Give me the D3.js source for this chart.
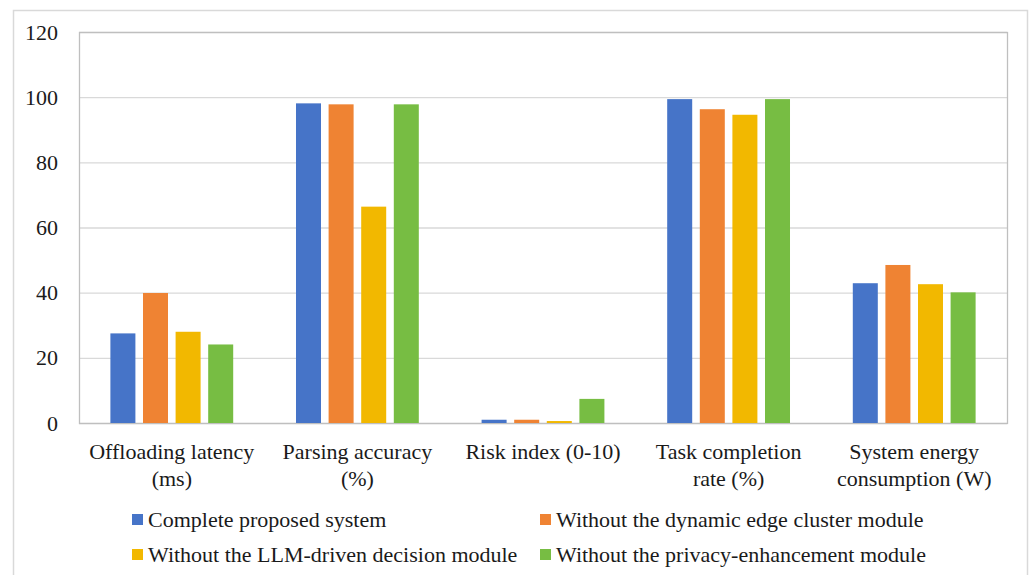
<!DOCTYPE html>
<html>
<head>
<meta charset="utf-8">
<script src="https://cdn.jsdelivr.net/npm/d3@7/dist/d3.min.js"></script>
<style>
  html, body { margin: 0; padding: 0; background: #fff; }
  svg { display: block; }
</style>
</head>
<body>
<svg id="chart" width="1031" height="575"></svg>
<script>
// Metrics on the x axis (each label may wrap onto two lines)
const categories = [
  ["Offloading latency", "(ms)"],
  ["Parsing accuracy", "(%)"],
  ["Risk index (0-10)"],
  ["Task completion", "rate (%)"],
  ["System energy", "consumption (W)"]
];

// System variants
const seriesNames = [
  "Complete proposed system",
  "Without the dynamic edge cluster module",
  "Without the LLM-driven decision module",
  "Without the privacy-enhancement module"
];

// Values per variant, in category order
const completeSystem   = [27.5, 98.1, 1.0, 99.4, 42.9];
const noEdgeCluster    = [39.9, 97.8, 1.0, 96.3, 48.5];
const noLLMDecision    = [28.0, 66.4, 0.6, 94.6, 42.6];
const noPrivacyModule  = [24.1, 97.8, 7.4, 99.4, 40.1];
const seriesValues = [completeSystem, noEdgeCluster, noLLMDecision, noPrivacyModule];

const yTicks = [0, 20, 40, 60, 80, 100, 120];
const colors = ["#4674c8", "#ef8333", "#f2b800", "#77bd43"];
const fontFamily = '"Liberation Serif"';
const fontSize = "22px";
const textColor = "#1a1a1a";

const svg = d3.select("#chart");

// Outer chart border
svg.append("rect")
  .attr("x", 13.5).attr("y", 10.5)
  .attr("width", 1014).attr("height", 600)
  .attr("fill", "none").attr("stroke", "#d9d9d9").attr("stroke-width", 1.5);

const plot = { left: 79, top: 32, right: 1007, bottom: 423 };

const catKeys = categories.map((c, i) => i);
const x0 = d3.scaleBand().domain(catKeys).range([plot.left, plot.right]).padding(0);
const x1 = d3.scaleBand().domain(d3.range(seriesNames.length))
  .range([0, x0.bandwidth()]).paddingInner(0.233).paddingOuter(0.963);
const y = d3.scaleLinear().domain([0, 120]).range([plot.bottom, plot.top]);

// Horizontal gridlines
svg.append("g").selectAll("line").data(yTicks).join("line")
  .attr("x1", plot.left).attr("x2", plot.right)
  .attr("y1", d => y(d) + 0.5).attr("y2", d => y(d) + 0.5)
  .attr("stroke", "#d9d9d9").attr("stroke-width", 1.3);

// Plot-area frame
svg.append("rect")
  .attr("x", plot.left + 0.5).attr("y", plot.top + 0.5)
  .attr("width", plot.right - plot.left).attr("height", plot.bottom - plot.top)
  .attr("fill", "none").attr("stroke", "#bfbfbf").attr("stroke-width", 1.3);

// Bars
const groups = svg.append("g").selectAll("g").data(catKeys).join("g")
  .attr("transform", d => `translate(${x0(d)},0)`);
groups.selectAll("rect")
  .data(ci => seriesValues.map((vals, si) => ({ si, v: vals[ci] })))
  .join("rect")
  .attr("x", d => x1(d.si))
  .attr("width", x1.bandwidth())
  .attr("y", d => y(d.v))
  .attr("height", d => y(0) - y(d.v))
  .attr("fill", d => colors[d.si]);

// Y axis labels (no domain line or tick marks)
const yAxis = svg.append("g")
  .attr("transform", `translate(${plot.left},0)`)
  .call(d3.axisLeft(y).tickValues(yTicks).tickSize(0).tickPadding(21));
yAxis.attr("font-family", null).attr("font-size", null);
yAxis.select(".domain").remove();
yAxis.selectAll("text")
  .style("font-family", fontFamily)
  .style("font-size", fontSize)
  .attr("fill", textColor);

// X axis category labels
const xAxis = svg.append("g")
  .attr("transform", `translate(0,${plot.bottom})`)
  .call(d3.axisBottom(x0).tickSize(0).tickFormat(() => ""));
xAxis.attr("font-family", null).attr("font-size", null);
xAxis.select(".domain").remove();
xAxis.selectAll(".tick").each(function (ci) {
  const t = d3.select(this).append("text")
    .attr("text-anchor", "middle")
    .style("font-family", fontFamily)
    .style("font-size", fontSize)
    .attr("fill", textColor);
  categories[ci].forEach((line, li) => {
    t.append("tspan").attr("x", 0).attr("y", 36 + li * 27).text(line);
  });
});

// Legend, two rows by two columns
const legendPos = [
  { x: 132, y: 520 }, { x: 540, y: 520 },
  { x: 132, y: 555 }, { x: 540, y: 555 }
];
const legend = svg.append("g").selectAll("g").data(seriesNames).join("g")
  .attr("transform", (d, i) => `translate(${legendPos[i].x},${legendPos[i].y})`);
legend.append("rect")
  .attr("x", 0).attr("y", -6).attr("width", 11).attr("height", 11)
  .attr("fill", (d, i) => colors[i]);
legend.append("text")
  .attr("x", 16).attr("y", 7)
  .style("font-family", fontFamily)
  .style("font-size", fontSize)
  .attr("fill", textColor)
  .text(d => d);
</script>
</body>
</html>
